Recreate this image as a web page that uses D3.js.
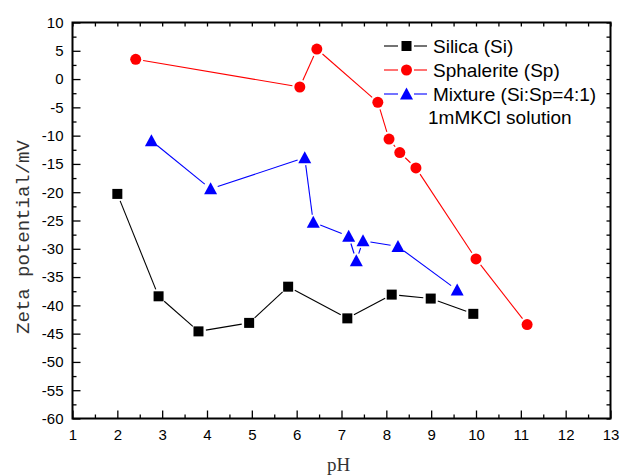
<!DOCTYPE html>
<html><head><meta charset="utf-8">
<script src="https://cdn.jsdelivr.net/npm/d3@7"></script>
<style>body{margin:0;background:#fff}svg{display:block}</style>
</head><body>
<svg id="c" width="621" height="476"></svg>
<script>
const silicaPH = [2.0, 2.92, 3.81, 4.94, 5.81, 7.13, 8.12, 8.99, 9.94];
const silicaZeta = [-20.3, -38.4, -44.6, -43.1, -36.7, -42.3, -38.1, -38.8, -41.5];
const sphalPH = [2.41, 6.07, 6.45, 7.81, 8.06, 8.30, 8.66, 10.0, 11.14];
const sphalZeta = [3.5, -1.4, 5.3, -4.1, -10.6, -13.0, -15.7, -31.8, -43.4];
const mixPH = [2.76, 4.08, 6.18, 6.37, 7.16, 7.33, 7.48, 8.26, 9.58];
const mixZeta = [-10.9, -19.4, -13.9, -25.3, -27.8, -32.1, -28.6, -29.6, -37.3];
const seriesNames = ["Silica (Si)", "Sphalerite (Sp)", "Mixture (Si:Sp=4:1)"];
const noteText = "1mMKCl solution";
const xTicks = [1,2,3,4,5,6,7,8,9,10,11,12,13];
const yTicks = [-60,-55,-50,-45,-40,-35,-30,-25,-20,-15,-10,-5,0,5,10];
const xLabel = "pH";
const yLabel = "Zeta potential/mV";

const svg = d3.select("#c");
const L = 72.5, R = 610.5, T = 22.5, B = 418.5;
const x = d3.scaleLinear().domain([1, 13]).range([L, R]);
const y = d3.scaleLinear().domain([-60, 10]).range([B, T]);

const xMinor = d3.range(1.5, 13, 1);
const yMinor = d3.range(-57.5, 10, 5);
const xAll = d3.range(1, 13.01, 0.5);
const yAll = d3.range(-60, 10.01, 2.5);
const fmt = d => String(d);

function styleAxis(g, labels) {
  g.select(".domain").remove();
  g.selectAll(".tick line").attr("stroke", "#000").attr("stroke-width", 1.3);
  g.selectAll(".tick text").attr("font-family", "Liberation Sans, Arial, sans-serif")
    .attr("font-size", 15).attr("fill", "#000");
  if (!labels) g.selectAll(".tick text").remove();
}
// bottom
svg.append("g").attr("transform", `translate(0,${B})`)
  .call(d3.axisBottom(x).tickValues(xTicks).tickSize(-8).tickPadding(11).tickFormat(fmt))
  .call(g => styleAxis(g, true));
svg.append("g").attr("transform", `translate(0,${B})`)
  .call(d3.axisBottom(x).tickValues(xMinor).tickSize(-4))
  .call(g => styleAxis(g, false));
// left
svg.append("g").attr("transform", `translate(${L},0)`)
  .call(d3.axisLeft(y).tickValues(yTicks).tickSize(-8).tickPadding(9).tickFormat(fmt))
  .call(g => styleAxis(g, true));
svg.append("g").attr("transform", `translate(${L},0)`)
  .call(d3.axisLeft(y).tickValues(yMinor).tickSize(-4))
  .call(g => styleAxis(g, false));
// top
svg.append("g").attr("transform", `translate(0,${T})`)
  .call(d3.axisTop(x).tickValues(xAll).tickSize(-4))
  .call(g => styleAxis(g, false));
// right
svg.append("g").attr("transform", `translate(${R},0)`)
  .call(d3.axisRight(y).tickValues(yAll).tickSize(-4))
  .call(g => styleAxis(g, false));

// frame
svg.append("rect").attr("x", L).attr("y", T).attr("width", R - L).attr("height", B - T)
  .attr("fill", "none").attr("stroke", "#000").attr("stroke-width", 2);

// axis titles
svg.append("text").attr("x", x(7.0) - 3).attr("y", 471).attr("text-anchor", "middle")
  .attr("font-family", "Liberation Serif, serif").attr("font-size", 19).attr("fill", "#333")
  .text(xLabel);
svg.append("text").attr("transform", "translate(29,237) rotate(-90)").attr("text-anchor", "middle")
  .attr("font-family", "Liberation Mono, monospace").attr("font-size", 19).attr("fill", "#333")
  .text(yLabel);

function marker(g, type, cx, cy, color) {
  if (type === "square") {
    g.append("rect").attr("x", cx - 5).attr("y", cy - 5).attr("width", 10).attr("height", 10).attr("fill", color);
  } else if (type === "circle") {
    g.append("circle").attr("cx", cx).attr("cy", cy).attr("r", 5.5).attr("fill", color);
  } else {
    const h = 11, w = 13;
    g.append("path").attr("d", `M${cx},${cy - h/2 - 1}L${cx + w/2},${cy + h/2}L${cx - w/2},${cy + h/2}Z`).attr("fill", color);
  }
}

function drawSeries(xs, ys, color, type) {
  const g = svg.append("g");
  const pts = xs.map((v, i) => [x(v), y(ys[i])]);
  const gap = 7.5;
  for (let i = 0; i < pts.length - 1; i++) {
    const [x1, y1] = pts[i], [x2, y2] = pts[i + 1];
    const dx = x2 - x1, dy = y2 - y1, d = Math.hypot(dx, dy);
    if (d <= 2 * gap) continue;
    const ux = dx / d, uy = dy / d;
    g.append("line").attr("x1", x1 + ux * gap).attr("y1", y1 + uy * gap)
      .attr("x2", x2 - ux * gap).attr("y2", y2 - uy * gap)
      .attr("stroke", color).attr("stroke-width", 1.1);
  }
  pts.forEach(p => marker(g, type, p[0], p[1], color));
}
drawSeries(silicaPH, silicaZeta, "#000", "square");
drawSeries(sphalPH, sphalZeta, "#ff0000", "circle");
drawSeries(mixPH, mixZeta, "#0000ff", "triangle");

// legend
const leg = svg.append("g");
const legRows = [
  {name: seriesNames[0], color: "#000", type: "square", cy: 46},
  {name: seriesNames[1], color: "#ff0000", type: "circle", cy: 70},
  {name: seriesNames[2], color: "#0000ff", type: "triangle", cy: 94}
];
legRows.forEach(r => {
  leg.append("line").attr("x1", 384).attr("x2", 398).attr("y1", r.cy).attr("y2", r.cy).attr("stroke", r.color).attr("stroke-width", 1.1);
  leg.append("line").attr("x1", 414).attr("x2", 427).attr("y1", r.cy).attr("y2", r.cy).attr("stroke", r.color).attr("stroke-width", 1.1);
  marker(leg, r.type, 406.5, r.cy, r.color);
  leg.append("text").attr("x", 433).attr("y", r.cy + 7)
    .attr("font-family", "Liberation Sans, Arial, sans-serif").attr("font-size", 19).attr("fill", "#000").text(r.name);
});
leg.append("text").attr("x", 428).attr("y", 123.5)
  .attr("font-family", "Liberation Sans, Arial, sans-serif").attr("font-size", 19).attr("fill", "#000").text(noteText);
</script>
</body></html>
